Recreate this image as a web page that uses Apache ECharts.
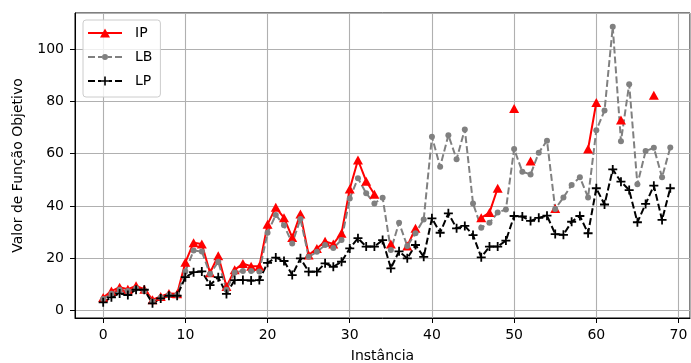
<!DOCTYPE html>
<html>
<head>
<meta charset="utf-8">
<script src="https://cdn.jsdelivr.net/npm/echarts@6/dist/echarts.min.js"></script>
<style>
html,body{margin:0;padding:0;background:#fff;}
#chart{width:691px;height:363px;}
</style>
</head>
<body>
<div id="chart"></div>
<script>
const instances = [0,1,2,3,4,5,6,7,8,9,10,11,12,13,14,15,16,17,18,19,20,21,22,23,24,25,26,27,28,29,30,31,32,33,34,35,36,37,38,39,40,41,42,43,44,45,46,47,48,49,50,51,52,53,54,55,56,57,58,59,60,61,62,63,64,65,66,67,68,69];

const ipValues = [5,7.5,9,8.2,9.5,8.2,4.2,5.4,6.6,6.5,18.5,26,25.5,14.5,21,9.2,15.6,18,17,17,33,39.5,35.5,28,37,21.3,23.8,26.5,25.5,29.6,46.5,57.6,49.5,44.5,null,25.5,null,24.7,31.5,null,null,null,null,null,null,null,35.5,37.5,46.8,null,77.3,null,57.2,null,null,39.1,null,null,null,61.8,79.6,null,null,72.9,null,null,null,82.4,null,null];

const lbValues = [4.5,6.5,8,7.5,8.5,7.5,3.5,5,6,6,15,23,22.6,14,18.7,8,14.6,15.2,15.2,15,29.8,36.6,32.7,25.7,35,20.6,22.5,25.1,24,27,42.9,50.6,44.9,41,43.2,23.2,33.6,24.7,29.6,34.9,66.5,55,67.1,57.9,69.3,41,31.7,33.6,37.5,38.7,61.8,53.1,52.1,60.4,65,38.9,43.3,48,51,43.3,69,76.5,108.5,64.8,86.6,48.3,61,62.3,51,62.4];

const lpValues = [3.2,5.1,6.6,6,8,8,2.8,4.7,5.7,5.7,12.8,14.7,15,9.8,12.8,6.4,11.7,11.7,11.5,11.7,18.3,20.3,19,13.6,20,14.9,14.9,18.1,16.8,18.7,23.8,27.7,24.5,24.5,27,16.2,22.7,20,25.1,20.6,35.3,29.8,37.2,31.5,32.4,28.9,20.4,24.5,24.5,26.8,36.2,36,34.3,35.5,36.3,29.3,29,34,36.2,29.6,46.8,40.6,54,49.3,46.1,33.8,40.8,47.8,34.7,46.8];

const seriesNames = ['IP','LB','LP'];
const xTickLabels = [0,10,20,30,40,50,60,70];
const yTickLabels = [0,20,40,60,80,100];

function pairs(vals){ return instances.map((x,i)=>[x, vals[i]]); }

const FONT = 'DejaVu Sans';
const plusPath = 'path://M4,0H6V4H10V6H6V10H4V6H0V4H4Z';

// legend icons (line sample + marker), drawn in a 34x14 box
const legendIcons = {
  IP: 'path://M0,6H34V8H0Z M12,11.5L17,2.5L22,11.5Z',
  LB: 'path://M0,6H7V8H0Z M10,6H14V8H10Z M20,6H24V8H20Z M27,6H34V8H27Z M20,7A3,3 0 1,1 14,7A3,3 0 1,1 20,7Z',
  LP: 'path://M0,6H7V8H0Z M10,6H13V8H10Z M21,6H24V8H21Z M27,6H34V8H27Z M16.2,2.5H17.8V6.2H21.5V7.8H17.8V11.5H16.2V7.8H12.5V6.2H16.2Z'
};

const chart = echarts.init(document.getElementById('chart'), null, {renderer:'canvas'});
chart.setOption({
  animation:false,
  backgroundColor:'#ffffff',
  textStyle:{fontFamily:FONT},
  grid:{left:75, right:1, top:13, bottom:45, show:true, borderColor:'#000', borderWidth:1,
        containLabel:false, outerBoundsMode:'none'},
  legend:{
    orient:'vertical', left:83, top:20,
    data:seriesNames.map(n=>({name:n, icon:legendIcons[n]})),
    itemWidth:34, itemHeight:14, itemGap:10,
    padding:[6,8,9,5],
    backgroundColor:'rgba(255,255,255,0.8)',
    borderColor:'#cccccc', borderWidth:1, borderRadius:3,
    textStyle:{fontFamily:FONT, fontSize:14, color:'#000', padding:[0,0,0,8]}
  },
  xAxis:{
    type:'value', min:-3.43, max:71.4, splitNumber:7,
    name:'Instância', nameLocation:'middle', nameGap:31,
    nameTextStyle:{fontFamily:FONT, fontSize:14, color:'#000'},
    axisLine:{show:true, onZero:false, lineStyle:{color:'#000', width:1}},
    axisTick:{show:true, length:5, lineStyle:{color:'#000'}},
    axisLabel:{color:'#000', fontSize:14, fontFamily:FONT, margin:10,
      showMinLabel:false, showMaxLabel:false,
      formatter:v=> xTickLabels.indexOf(v)>=0 ? String(v) : ''},
    splitLine:{show:true, lineStyle:{color:'#b0b0b0', width:1.1}}
  },
  yAxis:{
    type:'value', min:-2.8, max:113.8, splitNumber:6,
    name:'Valor de Função Objetivo', nameLocation:'middle', nameGap:50,
    nameTextStyle:{fontFamily:FONT, fontSize:14, color:'#000'},
    axisLine:{show:true, onZero:false, lineStyle:{color:'#000', width:1}},
    axisTick:{show:true, length:5, lineStyle:{color:'#000'}},
    axisLabel:{color:'#000', fontSize:14, fontFamily:FONT, margin:11,
      showMinLabel:false, showMaxLabel:false,
      formatter:v=> yTickLabels.indexOf(v)>=0 ? String(v) : ''},
    splitLine:{show:true, lineStyle:{color:'#b0b0b0', width:1.1}}
  },
  series:[
    {
      name:'IP', type:'line', data:pairs(ipValues), connectNulls:false,
      symbol:'triangle', symbolSize:[10,9], showAllSymbol:true,
      lineStyle:{color:'#ff0000', width:2},
      itemStyle:{color:'#ff0000'}
    },
    {
      name:'LB', type:'line', data:pairs(lbValues),
      symbol:'circle', symbolSize:6, showAllSymbol:true,
      lineStyle:{color:'#808080', width:2, type:[7,3]},
      itemStyle:{color:'#808080'}
    },
    {
      name:'LP', type:'line', data:pairs(lpValues),
      symbol:plusPath, symbolSize:9, showAllSymbol:true,
      lineStyle:{color:'#000000', width:2, type:[7,3]},
      itemStyle:{color:'#000000'}
    }
  ]
});
</script>
</body>
</html>
